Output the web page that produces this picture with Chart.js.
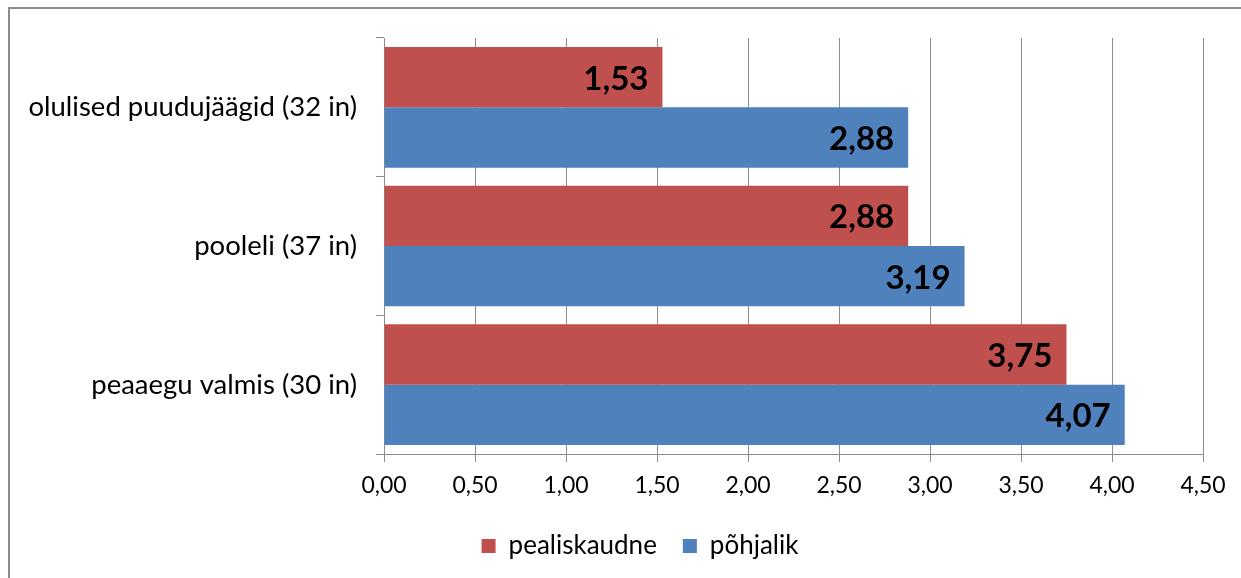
<!DOCTYPE html>
<html>
<head>
<meta charset="utf-8">
<script src="https://cdn.jsdelivr.net/npm/chart.js@4"></script>
<style>
    html, body { margin: 0; padding: 0; background: #fff; overflow: hidden; }
    #wrap { position: relative; width: 1241px; height: 578px; overflow: hidden; }
    #frame { position: absolute; left: 8px; top: 7px; width: 1264px; height: 620px; border: 2px solid #8c8c8c; box-sizing: border-box; }
    #graficoBarras { position: absolute; left: 0; top: 0; }
</style>
</head>
<body>
<div id="wrap">
    <div id="frame"></div>
    <canvas id="graficoBarras" width="1280" height="578"></canvas>
</div>
<script>
const categorias = ['olulised puudujäägid (32 in)', 'pooleli (37 in)', 'peaaegu valmis (30 in)'];
const pealiskaudne = [1.53, 2.88, 3.75];
const pohjalik = [2.88, 3.19, 4.07];
const ejeMin = 0;
const ejeMax = 4.5;
const ejePaso = 0.5;

const fuente = 'Lato, "Open Sans", sans-serif';

function formatoComa(v) {
    return Number(v).toFixed(2).replace('.', ',');
}

// etiquetas de datos dentro del extremo de cada barra
const etiquetasBarras = {
    id: 'etiquetasBarras',
    afterDatasetsDraw(chart) {
        const ctx = chart.ctx;
        ctx.save();
        ctx.font = 'bold 33px ' + fuente;
        ctx.fillStyle = '#000';
        ctx.textAlign = 'right';
        ctx.textBaseline = 'middle';
        chart.data.datasets.forEach((ds, i) => {
            chart.getDatasetMeta(i).data.forEach((bar, j) => {
                ctx.fillText(formatoComa(ds.data[j]), bar.x - 14, bar.y + 2);
            });
        });
        ctx.restore();
    }
};

new Chart(document.getElementById('graficoBarras'), {
    type: 'bar',
    data: {
        labels: categorias,
        datasets: [{
            label: 'pealiskaudne',
            data: pealiskaudne,
            backgroundColor: '#C0504D'
        }, {
            label: 'põhjalik',
            data: pohjalik,
            backgroundColor: '#4F81BD'
        }]
    },
    options: {
        indexAxis: 'y',
        responsive: false,
        animation: false,
        layout: {
            padding: { top: 38, right: 0, left: 0, bottom: 9 }
        },
        datasets: {
            bar: { categoryPercentage: 0.87, barPercentage: 1 }
        },
        scales: {
            x: {
                min: ejeMin,
                max: ejeMax,
                ticks: {
                    stepSize: ejePaso,
                    color: '#000',
                    padding: 10,
                    font: { family: fuente, size: 23 },
                    callback: (v) => formatoComa(v)
                },
                grid: { color: '#8c8c8c', tickLength: 8, lineWidth: 1 },
                border: { color: '#8c8c8c' },
                afterFit: (scale) => { scale.height = 53; }
            },
            y: {
                offset: true,
                ticks: {
                    color: '#000',
                    padding: 19,
                    font: { family: fuente, size: 27.5 }
                },
                grid: { offset: true, drawOnChartArea: false, color: '#8c8c8c', tickLength: 8 },
                border: { color: '#8c8c8c' },
                afterFit: (scale) => { scale.width = 384; }
            },
            // espacio vacío a la derecha para que la leyenda quede centrada en el marco
            yDerecha: {
                type: 'linear',
                position: 'right',
                ticks: { display: false },
                grid: { display: false },
                border: { display: false },
                afterFit: (scale) => { scale.width = 77; }
            }
        },
        plugins: {
            legend: {
                position: 'bottom',
                labels: {
                    color: '#000',
                    boxWidth: 14,
                    boxHeight: 14,
                    padding: 26,
                    font: { family: fuente, size: 26 }
                }
            },
            tooltip: { enabled: false }
        }
    },
    plugins: [etiquetasBarras]
});
</script>
</body>
</html>
